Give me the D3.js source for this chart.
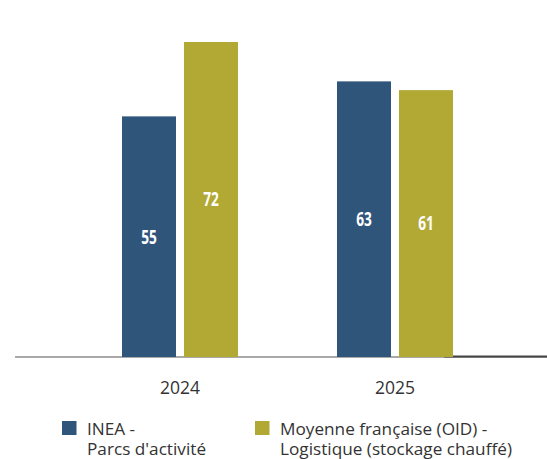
<!DOCTYPE html>
<html>
<head>
<meta charset="utf-8">
<script src="https://cdn.jsdelivr.net/npm/d3@7"></script>
<style>
  html, body { margin: 0; padding: 0; background: #fff; }
  svg { display: block; font-family: "Open Sans", "Noto Sans", sans-serif; }
</style>
</head>
<body>
<svg id="chart" width="547" height="459"></svg>
<script>
// Years on the category axis
const years = ["2024", "2025"];
// Series (one value per year)
const seriesNames = ["INEA", "OID"];
const ineaValues = [55, 63];
const oidValues = [72, 61];
// Legend labels, one array of lines per series
const legendLines = [
  ["INEA -", "Parcs d'activité"],
  ["Moyenne française (OID) -", "Logistique (stockage chauffé)"]
];
const colors = ["#30557a", "#b2a934"];

const svg = d3.select("#chart");

const baseY = 357;
const y = d3.scaleLinear().domain([0, 72]).range([baseY, 42]);

// Group centres, then bars inside each group
const xCenter = d3.scalePoint().domain(years).range([180, 395]);
const xInner = d3.scaleBand().domain(seriesNames).range([-58, 58]).paddingInner(8 / 62);

const rows = years.map((yr, i) => ({
  year: yr,
  values: [
    { key: "INEA", value: ineaValues[i] },
    { key: "OID", value: oidValues[i] }
  ]
}));

// Baseline
svg.append("line")
  .attr("x1", 15).attr("x2", 547)
  .attr("y1", baseY).attr("y2", baseY)
  .attr("stroke", "#8c8c8c").attr("stroke-width", 1.5);
svg.append("line")
  .attr("x1", 444).attr("x2", 547)
  .attr("y1", baseY - 0.5).attr("y2", baseY - 0.5)
  .attr("stroke", "#444").attr("stroke-width", 2);

const groups = svg.selectAll("g.year")
  .data(rows)
  .join("g")
  .attr("class", "year")
  .attr("transform", d => `translate(${xCenter(d.year)},0)`);

groups.selectAll("rect")
  .data(d => d.values)
  .join("rect")
  .attr("x", d => xInner(d.key))
  .attr("width", xInner.bandwidth())
  .attr("y", d => y(d.value))
  .attr("height", d => baseY - y(d.value))
  .attr("fill", (d, i) => colors[i]);

// Value labels centred in each bar
groups.selectAll("text.val")
  .data(d => d.values)
  .join("text")
  .attr("class", "val")
  .attr("transform", d => `translate(${xInner(d.key) + xInner.bandwidth() / 2},${(y(d.value) + baseY) / 2}) scale(0.72,1)`)
  .attr("text-anchor", "middle")
  .attr("dy", "0.36em")
  .attr("font-size", 19)
  .attr("font-weight", 700)
  .attr("fill", "#fff")
  .text(d => d.value);

// Year labels
svg.selectAll("text.yr")
  .data(years)
  .join("text")
  .attr("class", "yr")
  .attr("x", d => xCenter(d))
  .attr("y", 393.5)
  .attr("text-anchor", "middle")
  .attr("font-size", 17.5)
  .attr("fill", "#333")
  .text(d => d);

// Legend
const legendX = [62, 255];
const legend = svg.selectAll("g.leg")
  .data(seriesNames)
  .join("g")
  .attr("class", "leg")
  .attr("transform", (d, i) => `translate(${legendX[i]},0)`);

legend.append("rect")
  .attr("x", 0).attr("y", 421)
  .attr("width", 14.5).attr("height", 14)
  .attr("fill", (d, i) => colors[i]);

legend.selectAll("text")
  .data((d, i) => legendLines[i])
  .join("text")
  .attr("x", 25)
  .attr("y", (d, j) => 434.5 + j * 20.7)
  .attr("font-size", 17.2)
  .attr("fill", "#333")
  .text(d => d);
</script>
</body>
</html>
